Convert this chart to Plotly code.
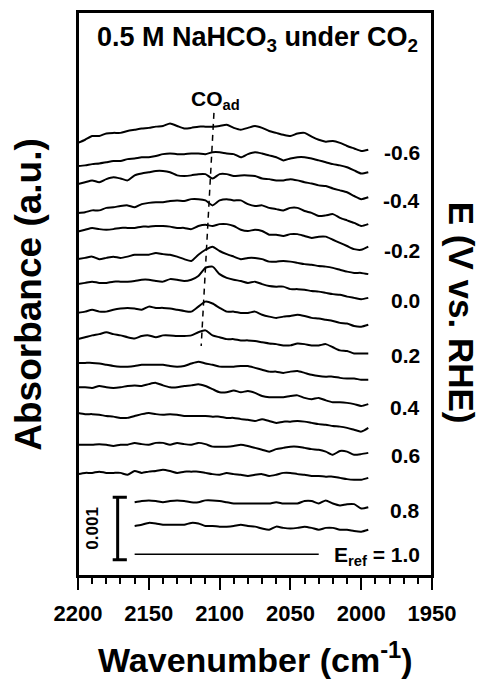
import plotly.graph_objects as go

# Wavenumber grids (cm^-1)
wn = [2200, 2195, 2190, 2185, 2180, 2175, 2170, 2165, 2160, 2155, 2150, 2145, 2140, 2135,
      2130, 2125, 2120, 2115, 2110, 2105, 2100, 2095, 2090, 2085, 2080, 2075, 2070, 2065,
      2060, 2055, 2050, 2045, 2040, 2035, 2030, 2025, 2020, 2015, 2010, 2005, 2000, 1995]
wn_short = [2160, 2155, 2150, 2145, 2140, 2135, 2130, 2125, 2120, 2115, 2110, 2105, 2100, 2095,
            2090, 2085, 2080, 2075, 2070, 2065, 2060, 2055, 2050, 2045, 2040, 2035, 2030, 2025,
            2020, 2015, 2010, 2005, 2000, 1995]

# Potentials (V vs. RHE)
potentials = [-0.6, -0.5, -0.4, -0.3, -0.2, -0.1, 0.0, 0.1, 0.2, 0.3, 0.4, 0.5, 0.6, 0.7, 0.8, 0.9]
label_text = ["-0.6", "", "-0.4", "", "-0.2", "", "0.0", "", "0.2", "", "0.4", "", "0.6", "", "0.8", ""]

# Spectra: absorbance change in units of 1e-5 (relative to each spectrum's end point)
spec_m06 = [11, 16, 22, 22, 26, 27, 27, 30, 32, 34, 35, 37, 38, 42, 38, 34, 35, 37, 37, 37, 38, 40, 35, 32, 35, 38, 35, 30, 27, 24, 22, 26, 27, 21, 16, 13, 14, 11, 6, 2, -2, 0]
spec_m05 = [10, 11, 13, 14, 16, 18, 18, 21, 22, 24, 24, 26, 29, 30, 29, 29, 30, 30, 29, 32, 32, 30, 29, 24, 29, 32, 30, 27, 24, 19, 22, 24, 24, 22, 19, 16, 13, 11, 8, 3, -2, 0]
spec_m04 = [21, 24, 27, 24, 29, 32, 30, 27, 35, 38, 40, 42, 42, 40, 35, 34, 35, 37, 37, 30, 37, 37, 34, 35, 35, 34, 30, 29, 27, 27, 29, 27, 24, 22, 19, 18, 14, 11, 8, 2, -3, 0]
spec_m03 = [18, 19, 22, 22, 26, 27, 29, 30, 27, 32, 34, 35, 35, 37, 38, 37, 40, 40, 38, 30, 38, 40, 38, 38, 32, 29, 30, 26, 24, 22, 26, 26, 21, 18, 13, 14, 16, 10, 6, 2, -3, 0]
spec_m02 = [26, 29, 32, 30, 29, 30, 32, 32, 32, 34, 34, 35, 35, 34, 32, 32, 30, 35, 37, 35, 38, 38, 35, 29, 27, 29, 27, 21, 21, 19, 22, 22, 19, 16, 18, 18, 13, 8, 3, -2, -3, 2]
spec_m01 = [22, 24, 26, 22, 24, 26, 24, 26, 29, 29, 29, 32, 30, 29, 26, 22, 19, 29, 37, 42, 35, 30, 26, 22, 24, 24, 22, 18, 18, 19, 18, 16, 14, 13, 11, 10, 8, 5, 2, 0, 0, -2]
spec_p00 = [22, 24, 26, 24, 24, 26, 26, 26, 27, 29, 29, 27, 26, 30, 29, 27, 29, 35, 48, 50, 38, 32, 29, 27, 24, 26, 22, 19, 18, 18, 14, 14, 13, 11, 10, 8, 6, 5, 2, 0, -2, 0]
spec_p01 = [19, 21, 24, 21, 21, 24, 26, 27, 26, 24, 29, 27, 27, 26, 24, 22, 21, 29, 37, 34, 27, 21, 21, 19, 19, 21, 16, 13, 11, 13, 14, 16, 14, 11, 10, 8, 6, 3, 2, -2, -3, 0]
spec_p02 = [21, 24, 27, 29, 32, 29, 27, 24, 22, 26, 27, 24, 27, 27, 26, 26, 27, 32, 35, 27, 24, 21, 21, 19, 19, 18, 16, 14, 13, 11, 11, 14, 13, 11, 11, 13, 8, 3, 2, -2, -2, -2]
spec_p03 = [27, 27, 27, 26, 24, 22, 21, 21, 22, 24, 24, 24, 24, 22, 21, 22, 26, 29, 26, 24, 21, 21, 21, 22, 22, 19, 16, 13, 13, 11, 13, 14, 11, 8, 6, 5, 5, 3, 2, 2, 0, 0]
spec_p04 = [27, 27, 26, 29, 27, 26, 27, 29, 30, 29, 32, 34, 30, 27, 27, 29, 30, 32, 29, 24, 19, 19, 22, 19, 21, 18, 13, 11, 11, 11, 13, 14, 10, 8, 10, 6, 3, 3, 2, 0, -3, 0]
spec_p05 = [24, 22, 22, 21, 19, 18, 16, 16, 19, 22, 24, 22, 21, 22, 21, 19, 19, 19, 19, 18, 18, 16, 16, 14, 13, 11, 14, 11, 8, 10, 10, 11, 10, 8, 6, 5, 3, 2, 0, -3, -6, 0]
spec_p06 = [13, 13, 13, 14, 13, 11, 13, 13, 16, 14, 13, 16, 16, 13, 16, 14, 13, 16, 14, 10, 10, 10, 11, 13, 11, 8, 5, 2, 6, 8, 10, 10, 8, 6, 5, 2, -3, 3, 2, -3, -2, 0]
spec_p07 = [6, 8, 8, 10, 8, 8, 8, 5, 11, 8, 10, 11, 13, 11, 8, 10, 10, 10, 8, 6, 5, 8, 6, 5, 3, 5, 6, 3, 5, 8, 8, 6, 5, 3, 3, 2, 2, 0, -2, -3, -3, 0]
spec_p08 = [8, 10, 11, 10, 8, 10, 11, 10, 8, 8, 11, 11, 10, 8, 6, 6, 6, 6, 6, 6, 8, 6, 6, 6, 10, 10, 6, 11, 6, 3, 5, 5, -2, 0]
spec_p09 = [6, 8, 11, 10, 8, 8, 8, 8, 11, 10, 6, 6, 5, 5, 6, 8, 6, 5, 2, 0, 5, 3, 2, 3, 5, 3, 0, 3, 3, 0, 0, -2, -3, 0]

spectra = [spec_m06, spec_m05, spec_m04, spec_m03, spec_m02, spec_m01, spec_p00, spec_p01,
           spec_p02, spec_p03, spec_p04, spec_p05, spec_p06, spec_p07, spec_p08, spec_p09]
spectra_wn = [wn] * 14 + [wn_short, wn_short]

# Vertical stacking offsets (units of 1e-5 absorbance)
offsets = [682, 646, 606, 563, 525, 485, 445, 402, 358, 314, 275, 237, 197, 157, 110, 74]

# Reference spectrum (E_ref = 1.0 V), flat
ref_wn = [2160, 2030]
ref_values = [0, 0]
ref_offset = 35

# CO_ad peak guide (wavenumber, stacked position)
co_guide_wn = [2104, 2113]
co_guide_y = [741, 368]

# Scale bar: 0.001 absorbance = 100 units
scale_bar_value = 100
scale_bar_base = 26
scale_bar_wn = 2172
scale_cap_wn = [2175.5, 2165.5]

Y_MAX = 902.4
FONT = "Liberation Sans"

fig = go.Figure()

for wns, vals, off in zip(spectra_wn, spectra, offsets):
    fig.add_trace(go.Scatter(x=wns, y=[v + off for v in vals], mode="lines",
                             line=dict(color="black", width=2, shape="spline", smoothing=0.6),
                             showlegend=False, hoverinfo="skip"))

fig.add_trace(go.Scatter(x=ref_wn, y=[v + ref_offset for v in ref_values], mode="lines",
                         line=dict(color="black", width=1.5), showlegend=False, hoverinfo="skip"))

fig.add_trace(go.Scatter(x=co_guide_wn, y=co_guide_y, mode="lines",
                         line=dict(color="black", width=1.5, dash="6px,5px"),
                         showlegend=False, hoverinfo="skip"))

# scale bar
sb_top = scale_bar_base + scale_bar_value
fig.add_trace(go.Scatter(
    x=[scale_bar_wn, scale_bar_wn, None, scale_cap_wn[0], scale_cap_wn[1], None, scale_cap_wn[0], scale_cap_wn[1]],
    y=[scale_bar_base, sb_top, None, scale_bar_base, scale_bar_base, None, sb_top, sb_top],
    mode="lines", line=dict(color="black", width=3), showlegend=False, hoverinfo="skip"))

ann = []
for txt, off in zip(label_text, offsets):
    if txt:
        ann.append(dict(x=1957, y=off, xref="x", yref="y", text=txt, showarrow=False,
                        xanchor="right", yanchor="middle", yshift=-3,
                        font=dict(family=FONT, size=21, color="black", weight="bold")))
ann.append(dict(x=1957, y=ref_offset, xref="x", yref="y", text="E<sub>ref</sub> = 1.0", showarrow=False,
                xanchor="right", yanchor="middle", yshift=-2,
                font=dict(family=FONT, size=21, color="black", weight="bold")))
ann.append(dict(x=2103, y=762, xref="x", yref="y", text="CO<sub>ad</sub>", showarrow=False,
                xanchor="center", yanchor="middle",
                font=dict(family=FONT, size=21, color="black", weight="bold")))
ann.append(dict(x=2190, y=scale_bar_base + scale_bar_value / 2, xref="x", yref="y", text="0.001",
                showarrow=False, textangle=-90, xanchor="center", yanchor="middle",
                font=dict(family=FONT, size=17, color="black", weight="bold")))
ann.append(dict(x=0.506, y=0.953, xref="paper", yref="paper",
                text="0.5 M NaHCO<sub>3</sub> under CO<sub>2</sub>", showarrow=False,
                xanchor="center", yanchor="middle",
                font=dict(family=FONT, size=27, color="black", weight="bold")))
ann.append(dict(x=-0.142, y=0.5, xref="paper", yref="paper", text="Absorbance (a.u.)",
                showarrow=False, textangle=-90, xanchor="center", yanchor="middle",
                font=dict(family=FONT, size=37, color="black", weight="bold")))
ann.append(dict(x=1.083, y=0.466, xref="paper", yref="paper", text="E (V vs. RHE)",
                showarrow=False, textangle=90, xanchor="center", yanchor="middle",
                font=dict(family=FONT, size=35, color="black", weight="bold")))
ann.append(dict(x=0.5, y=-0.145, xref="paper", yref="paper", text="Wavenumber (cm<sup>-1</sup>)",
                showarrow=False, xanchor="center", yanchor="middle",
                font=dict(family=FONT, size=34, color="black", weight="bold")))

# plot frame
frame = [dict(type="rect", xref="paper", yref="paper", x0=0, x1=1, y0=0, y1=1,
              line=dict(color="black", width=2), layer="above")]

fig.update_layout(
    template="none",
    width=488, height=682,
    margin=dict(l=78, r=56, t=12, b=106, autoexpand=False),
    paper_bgcolor="white", plot_bgcolor="white",
    annotations=ann,
    shapes=frame,
    xaxis=dict(range=[2200, 1950], tick0=1950, dtick=50, ticks="outside", ticklen=12, tickwidth=2,
               tickcolor="black", showline=True, linecolor="black", linewidth=2, mirror=True,
               showgrid=False, zeroline=False, ticklabelstandoff=5, automargin=False,
               tickfont=dict(family=FONT, size=22, color="black", weight="bold"),
               minor=dict(dtick=10, ticks="outside", ticklen=6, tickwidth=2, tickcolor="black",
                          showgrid=False)),
    yaxis=dict(range=[0, Y_MAX], showticklabels=False, ticks="", showline=True, linecolor="black",
               linewidth=2, mirror=True, showgrid=False, zeroline=False, automargin=False),
)

fig.write_html("out.html", config={"displayModeBar": False, "staticPlot": True},
               post_script="document.body.style.margin='0';document.body.style.overflow='hidden';")
